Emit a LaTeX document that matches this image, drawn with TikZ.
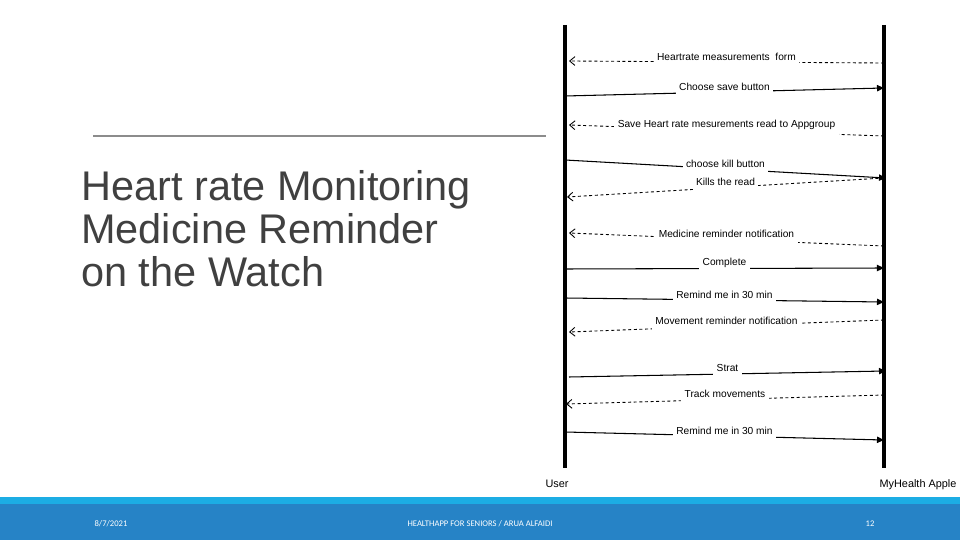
\documentclass[tikz,border=0pt]{standalone}
\usepackage{fontspec}
\setmainfont{Liberation Sans}
\newfontfamily\footfont{Carlito}
\usepackage{tikz}
\usetikzlibrary{arrows.meta}

\definecolor{titlegray}{HTML}{404040}
\definecolor{rulegray}{HTML}{8C8C8C}
\definecolor{footblue}{HTML}{2683C6}
\definecolor{footstrip}{HTML}{1CADE4}

\begin{document}
\begin{tikzpicture}[x=0.02cm,y=-0.02cm,
	life/.style={line width=2.3pt},
	call/.style={line width=0.6pt,-{Triangle[length=4pt,width=3.6pt]}},
	reply/.style={line width=0.5pt,dash pattern=on 1.7pt off 1.5pt,-{Straight Barb[length=3pt,width=5pt]}},
	msg/.style={font=\fontsize{5.8}{7}\selectfont,fill=white,inner xsep=2pt,inner ysep=3.5pt,yshift=3.2pt},
	actor/.style={font=\fontsize{6.2}{7.5}\selectfont,inner sep=0pt,anchor=base},
	foot/.style={font=\footfont\fontsize{4.9}{6}\selectfont,text=white,inner sep=0pt,anchor=base}]
	\useasboundingbox (0,0) rectangle (960,540);
	%
	% title
	\draw [rulegray, line width=0.6pt] (93,136) -- (546,136);
	\node (title) [anchor=north west, inner sep=0pt, align=left, text=titlegray,
		font=\fontsize{23.6}{24.4}\selectfont] at (81,170)
		{Heart rate Monitoring\\Medicine Reminder\\on the Watch};
	%
	% lifelines
	\node (user) [actor] at (557,487) {User};
	\node (app) [actor] at (918,487) {MyHealth Apple};
	\coordinate (utop) at (565,25);
	\coordinate (ubot) at (565,468);
	\coordinate (atop) at (884,25);
	\coordinate (abot) at (884,468);
	\draw [life] (utop) -- (ubot);
	\draw [life] (atop) -- (abot);
	%
	% messages
	\coordinate (a1) at (884,63);  \coordinate (u1) at (569,61);
	\coordinate (u2) at (565,96);  \coordinate (a2) at (884,88);
	\coordinate (a3) at (884,136); \coordinate (u3) at (569,125);
	\coordinate (u4) at (565,160); \coordinate (a4) at (886,178);
	\coordinate (a5) at (884,178); \coordinate (u5) at (567,197);
	\coordinate (a6) at (884,246); \coordinate (u6) at (569,233);
	\coordinate (u7) at (565,269); \coordinate (a7) at (884,268);
	\coordinate (u8) at (565,298); \coordinate (a8) at (884,302);
	\coordinate (a9) at (884,320); \coordinate (u9) at (569,332);
	\coordinate (u10) at (569,377); \coordinate (a10) at (886,371);
	\coordinate (a11) at (884,395); \coordinate (u11) at (566,404);
	\coordinate (u12) at (565,432); \coordinate (a12) at (884,440);
	%
	\draw [reply] (a1) to node [msg] {Heartrate measurements\ \ form} (u1);
	\draw [call] (u2) to node [msg] {Choose save button} (a2);
	\draw [reply] (a3) to node [msg] {Save Heart rate mesurements read to Appgroup} (u3);
	\draw [call] (u4) to node [msg] {choose kill button} (a4);
	\draw [reply] (a5) to node [msg] {Kills the read} (u5);
	\draw [reply] (a6) to node [msg] {Medicine reminder notification} (u6);
	\draw [call] (u7) to node [msg] {Complete} (a7);
	\draw [call] (u8) to node [msg] {Remind me in 30 min} (a8);
	\draw [reply] (a9) to node [msg] {Movement reminder notification} (u9);
	\draw [call] (u10) to node [msg] {Strat} (a10);
	\draw [reply] (a11) to node [msg] {Track movements} (u11);
	\draw [call] (u12) to node [msg] {Remind me in 30 min} (a12);
	%
	% footer
	\fill [footstrip] (0,497) rectangle (960,504);
	\fill [footblue] (0,504) rectangle (960,540);
	\node (date) [foot] at (111,526) {8/7/2021};
	\node (ftitle) [foot] at (480,526) {HEALTHAPP FOR SENIORS / ARUA ALFAIDI};
	\node (pnum) [foot] at (870,526) {12};
\end{tikzpicture}
\end{document}
